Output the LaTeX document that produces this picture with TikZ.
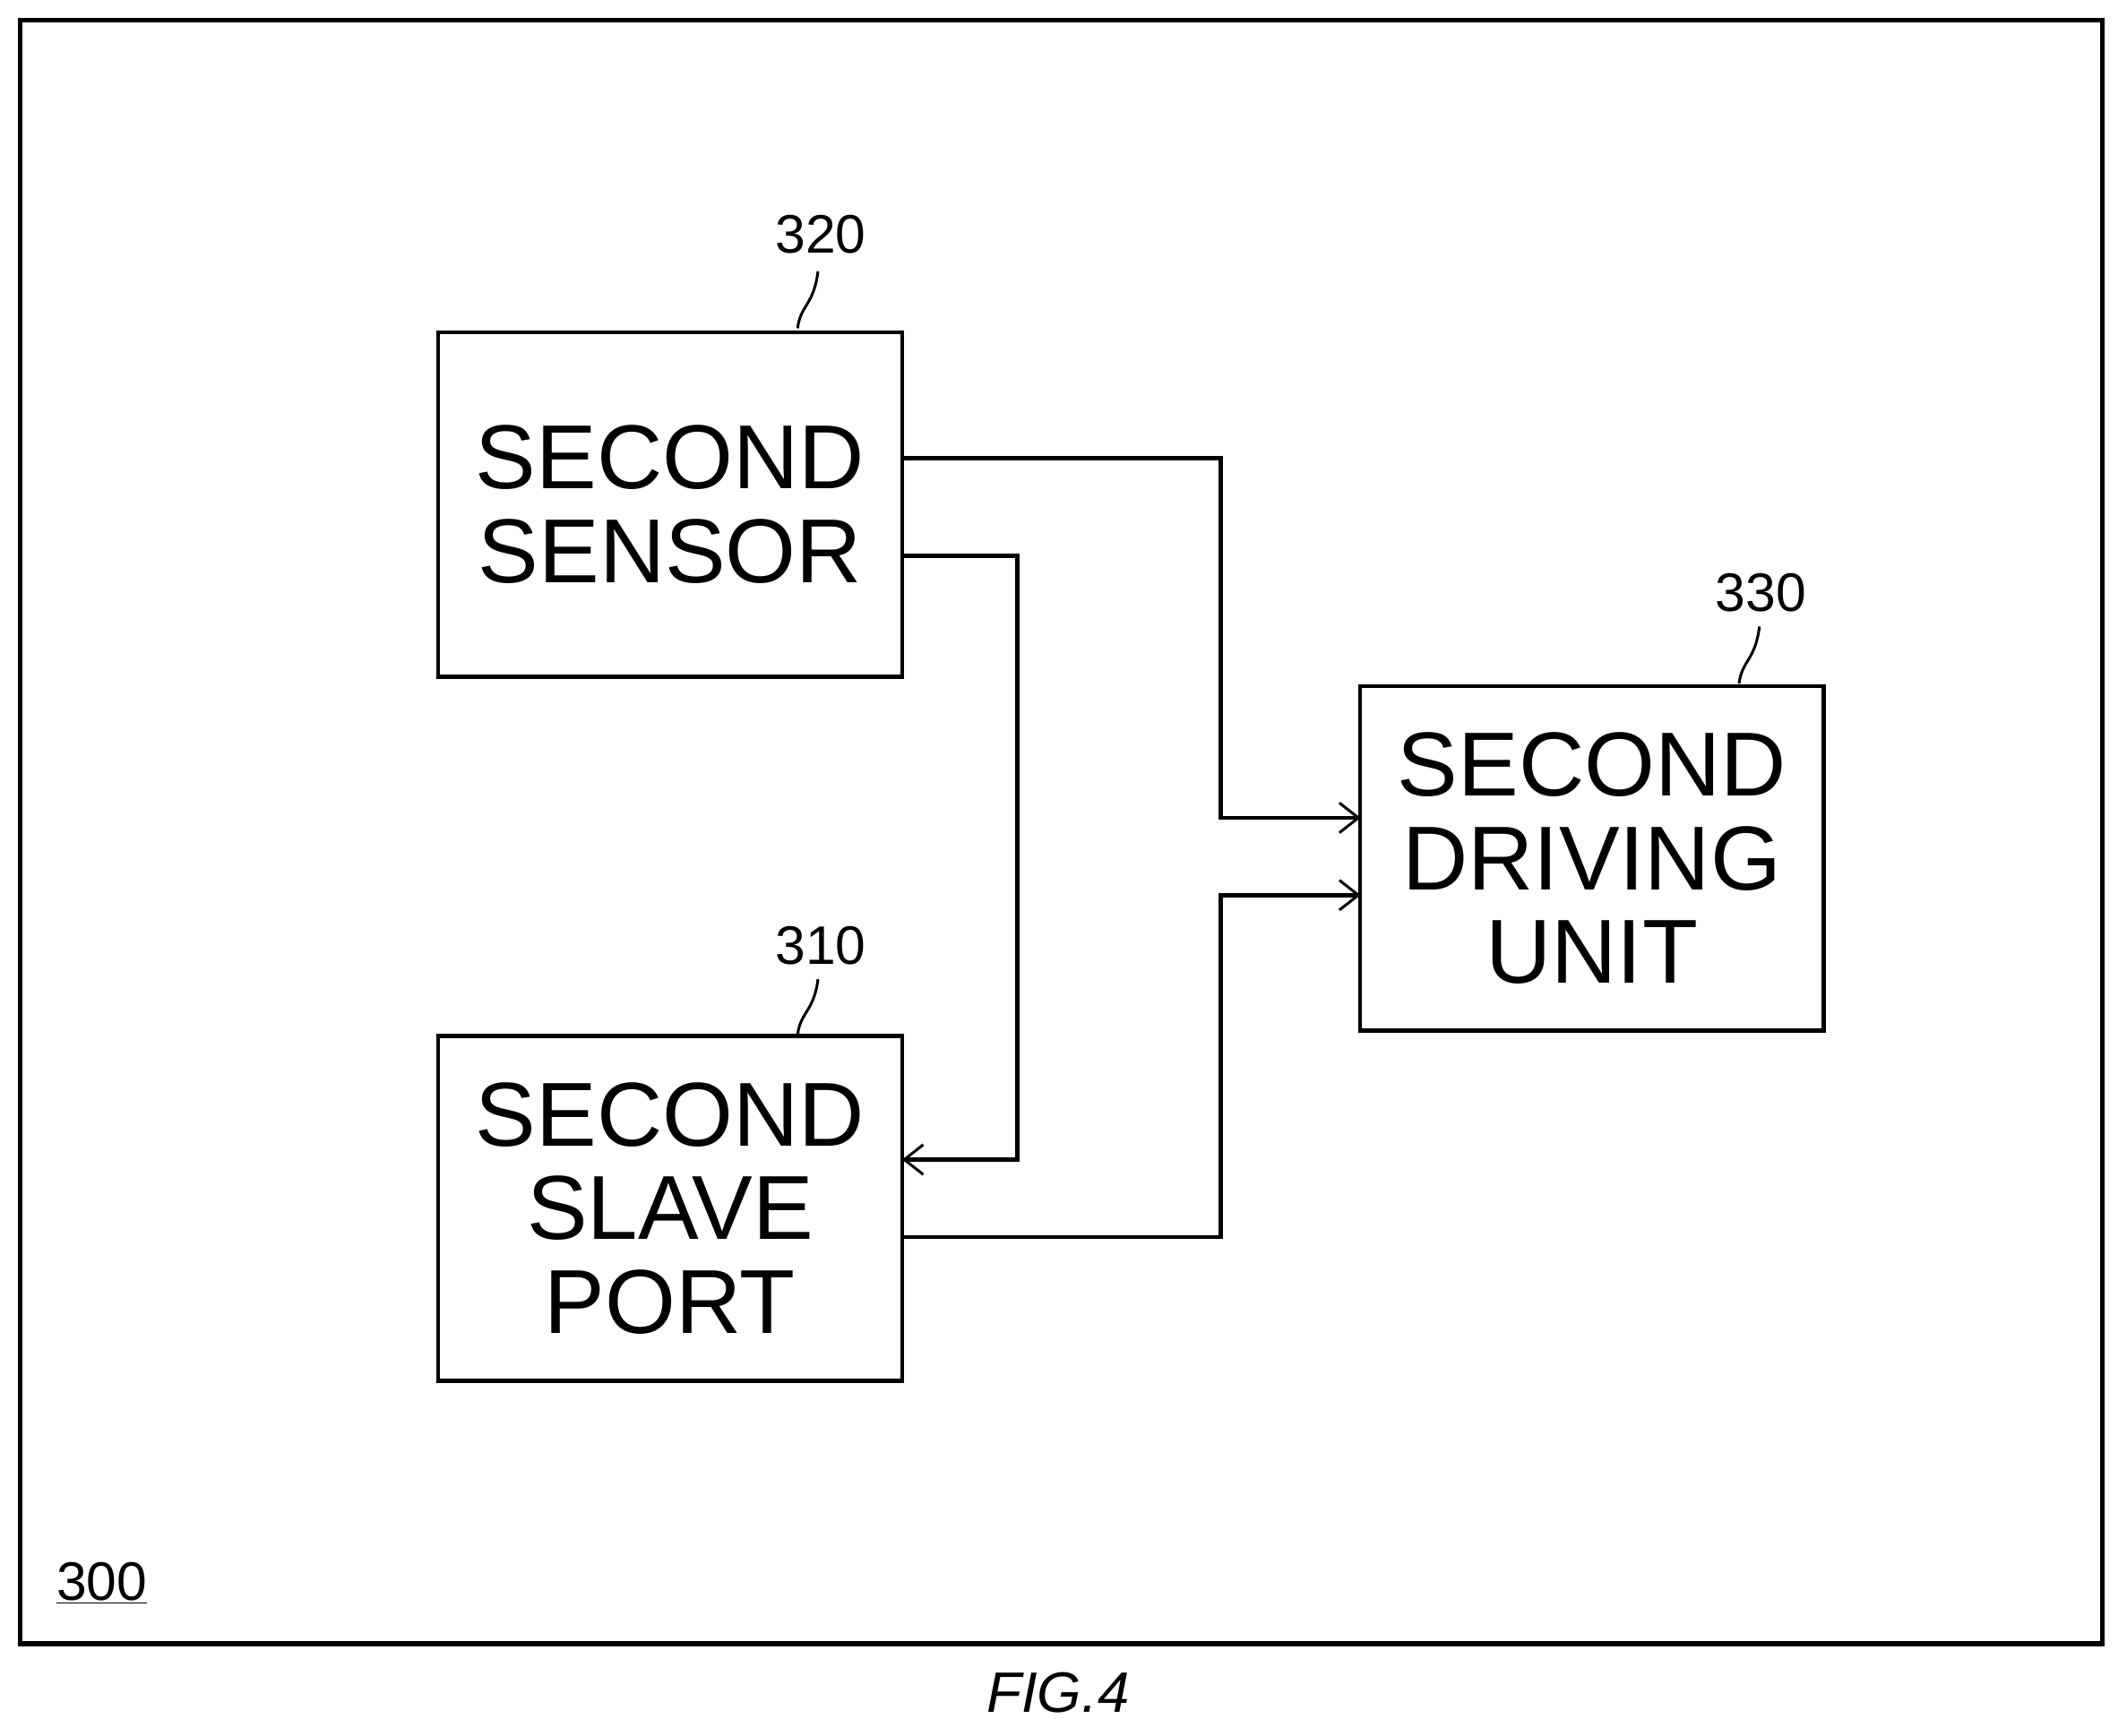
\documentclass[tikz,border=0pt]{standalone}
\usepackage{fontspec}
\setmainfont{Liberation Sans}
\usetikzlibrary{arrows.meta}
\begin{document}
\begin{tikzpicture}[x=1pt,y=-1pt,
  blk/.style={draw,line width=3pt,minimum width=342pt,minimum height=254pt,align=center,font=\fontsize{67}{69}\selectfont,inner sep=0pt},
  wire/.style={line width=3pt},
  arr/.style={wire,-{Straight Barb[length=14pt,width=22pt,line width=2pt]}},
  lbl/.style={font=\fontsize{40}{40}\selectfont,inner sep=0pt},
  lead/.style={line width=2pt}]
\useasboundingbox (0,0) rectangle (1568,1280);
\node[draw,line width=3.5pt,minimum width=1535pt,minimum height=1197pt,inner sep=0pt] (frame) at (782.5,613.5) {};
\node[blk] (s) at (494,372) {SECOND\\SENSOR};
\node[blk] (p) at (494,891) {SECOND\\SLAVE\\PORT};
\node[blk] (d) at (1173.5,633) {SECOND\\DRIVING\\UNIT};
\coordinate (s1) at (665,338); \coordinate (s2) at (665,410);
\coordinate (d1) at (1003,603); \coordinate (d2) at (1003,660);
\coordinate (p1) at (665,855); \coordinate (p2) at (665,912);
\draw[arr] (s1) -- (900,338) -- (900,603) -- (d1);
\draw[arr] (s2) -- (750,410) -- (750,855) -- (p1);
\draw[arr] (p2) -- (900,912) -- (900,660) -- (d2);
\node[lbl] (l320) at (605,173) {320};
\node[lbl] (l310) at (605,697) {310};
\node[lbl] (l330) at (1298,437) {330};
\draw[lead] (588,242) .. controls (590,225) and (600,225) .. (603,200);
\draw[lead] (588,763) .. controls (590,746) and (600,746) .. (603,722);
\draw[lead] (1282,504) .. controls (1284,487) and (1294,487) .. (1297,462);
\node[lbl] (l300) at (75,1167) {\underline{300}};
\node[font=\itshape\fontsize{42}{42}\selectfont] (fig) at (780,1248) {FIG.4};
\end{tikzpicture}
\end{document}
